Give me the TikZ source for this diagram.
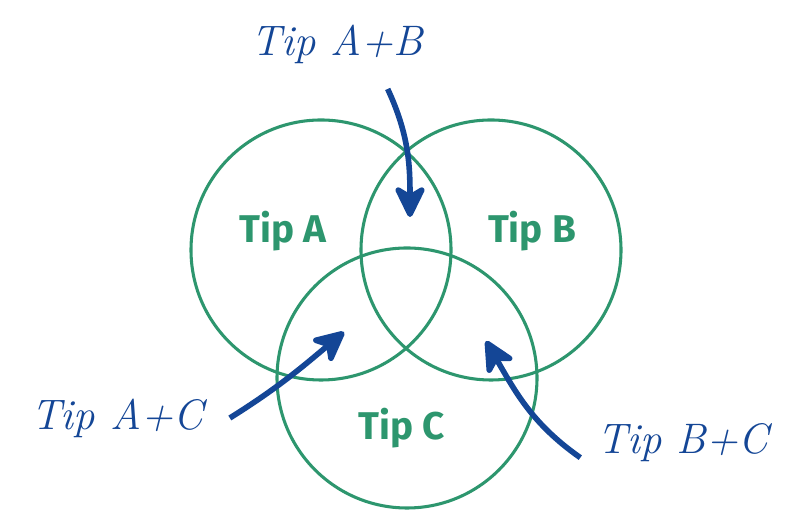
\documentclass[tikz,border=0pt]{standalone}
\usepackage{fontspec}
\usetikzlibrary{arrows.meta, positioning}
\newfontfamily\tipfont{Fira Sans}
\definecolor{venn}{RGB}{45,150,110}
\definecolor{hand}{RGB}{20,70,150}

\begin{document}
\begin{tikzpicture}[
    x=0.75pt, y=0.75pt,
    set/.style={circle, draw=venn, line width=2.3pt, minimum size=195pt, inner sep=0pt},
    setlabel/.style={text=venn, font=\tipfont\bfseries\fontsize{29}{29}\selectfont, inner sep=0pt},
    hint/.style={text=hand, font=\itshape\fontsize{32}{32}\selectfont, inner sep=0pt},
    arrow/.style={-{Stealth[length=28pt,width=27pt,inset=8pt,round]}, draw=hand, line width=4.2pt}
]
\useasboundingbox (0,0) rectangle (800,527);

% Circles
\node[set] (setA) at (321,277) {};
\node[set] (setB) at (491,277) {};
\node[set] (setC) at (407,149) {};

% Set labels
\node[setlabel] (tipA) at (283,296) {Tip A};
\node[setlabel] (tipB) at (532,296) {Tip B};
\node[setlabel] (tipC) at (402,99) {Tip C};

% Handwritten hints
\node[hint] (hintAB) at (337,483) {Tip A+B};
\node[hint] (hintAC) at (117,109) {Tip A+C};
\node[hint] (hintBC) at (683,84) {Tip B+C};

% Arrow targets
\coordinate (inAB) at (410,310);
\coordinate (inAC) at (344,195);
\coordinate (inBC) at (486,186);

% Arrows
\draw[arrow] ([xshift=38pt, yshift=-19pt]hintAB.south) to[out=-65, in=90] (inAB);
\draw[arrow] ([xshift=20pt]hintAC.east) to[out=32, in=-140] (inAC);
\draw[arrow] ([xshift=-13pt, yshift=-11pt]hintBC.west) to[out=145, in=-60] (inBC);

\end{tikzpicture}
\end{document}
